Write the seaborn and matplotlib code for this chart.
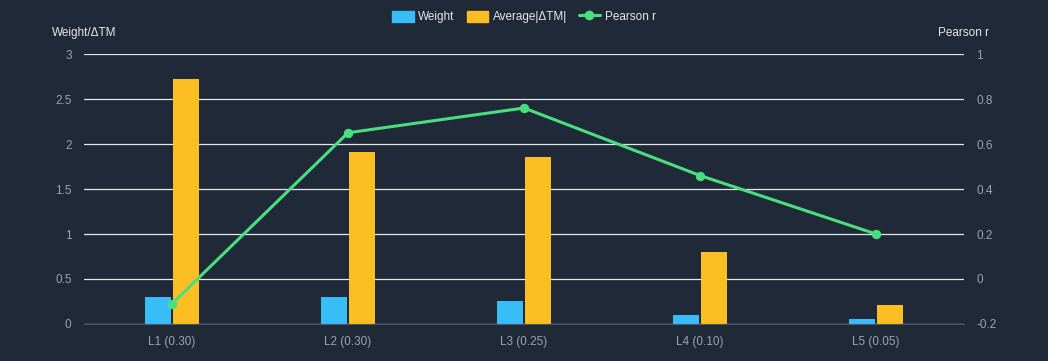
"""Layer weights, average |ΔTM| and Pearson r per layer."""

import pandas as pd
import matplotlib.pyplot as plt
import numpy as np
import seaborn as sns
from matplotlib.patches import Patch
from matplotlib.lines import Line2D

# Data
layers = ["L1 (0.30)", "L2 (0.30)", "L3 (0.25)", "L4 (0.10)", "L5 (0.05)"]
weight = [0.30, 0.30, 0.25, 0.10, 0.05]
avg_dtm = [2.72, 1.91, 1.86, 0.80, 0.21]
pearson_r = [-0.11, 0.65, 0.76, 0.46, 0.20]

# Colours
bg = "#1f2937"
blue = "#38bdf8"
orange = "#fbbf24"
green = "#4ade80"
tick_col = "#9ca3af"
text_col = "#e5e7eb"

sns.set_style("dark")
plt.rcParams["font.family"] = ["Liberation Sans", "DejaVu Sans"]

# Long-form table for the grouped bars
bars = pd.DataFrame({
    "layer": layers * 2,
    "value": weight + avg_dtm,
    "series": ["Weight"] * len(layers) + ["Average|ΔTM|"] * len(layers),
})

fig = plt.figure(figsize=(10.48, 3.61), dpi=100, facecolor=bg)
ax = fig.add_axes([0.0802, 0.1025, 0.8396, 0.7479])
ax.set_facecolor(bg)

sns.barplot(
    data=bars, x="layer", y="value", hue="series",
    palette=[blue, orange], width=0.32, gap=0.1,
    saturation=1, legend=False, ax=ax, linewidth=0,
)
ax.set_xlim(-0.5, len(layers) - 0.5)
ax.set_ylim(0, 3)
ax.set_yticks(np.arange(0, 3.01, 0.5))
ax.set_yticklabels(["0", "0.5", "1", "1.5", "2", "2.5", "3"])
ax.set_xlabel("")
ax.set_ylabel("")
ax.grid(axis="y", color="#e5e7eb", linewidth=0.9)
ax.grid(axis="x", visible=False)
ax.set_axisbelow(True)
for side in ["top", "left", "right"]:
    ax.spines[side].set_visible(False)
ax.spines["bottom"].set_color("#4b5563")
ax.tick_params(axis="both", colors=tick_col, labelsize=8.5, length=0)
ax.tick_params(axis="x", pad=9)
ax.tick_params(axis="y", pad=9)

# Pearson r on the right axis
ax2 = ax.twinx()
sns.lineplot(
    x=np.arange(len(layers)), y=pearson_r, ax=ax2,
    color=green, linewidth=2.2, marker="o", markersize=6,
    markeredgecolor=green,
)
ax2.set_ylim(-0.2, 1)
ax2.set_yticks(np.arange(-0.2, 1.01, 0.2))
ax2.set_yticklabels(["-0.2", "0", "0.2", "0.4", "0.6", "0.8", "1"])
ax2.grid(False)
for side in ["top", "left", "right", "bottom"]:
    ax2.spines[side].set_visible(False)
ax2.tick_params(axis="y", colors=tick_col, labelsize=8.5, length=0, pad=9)

# Axis titles above the axes
fig.text(84 / 1048, 1 - 33 / 361, "Weight/ΔTM", color=text_col,
         fontsize=8.5, ha="center", va="center")
fig.text(964 / 1048, 1 - 33 / 361, "Pearson r", color=text_col,
         fontsize=8.5, ha="center", va="center")

# Legend on top
handles = [
    Patch(facecolor=blue, edgecolor=blue),
    Patch(facecolor=orange, edgecolor=orange),
    Line2D([0], [0], color=green, linewidth=2.2, marker="o", markersize=6),
]
leg = fig.legend(
    handles, ["Weight", "Average|ΔTM|", "Pearson r"],
    loc="center", bbox_to_anchor=(0.5, 1 - 17 / 361), ncol=3,
    frameon=False, fontsize=8.5, handlelength=1.8, handleheight=1.1,
    columnspacing=1.0, handletextpad=0.4, labelcolor=text_col,
)

fig.savefig("out.png", dpi=100, facecolor=bg)
